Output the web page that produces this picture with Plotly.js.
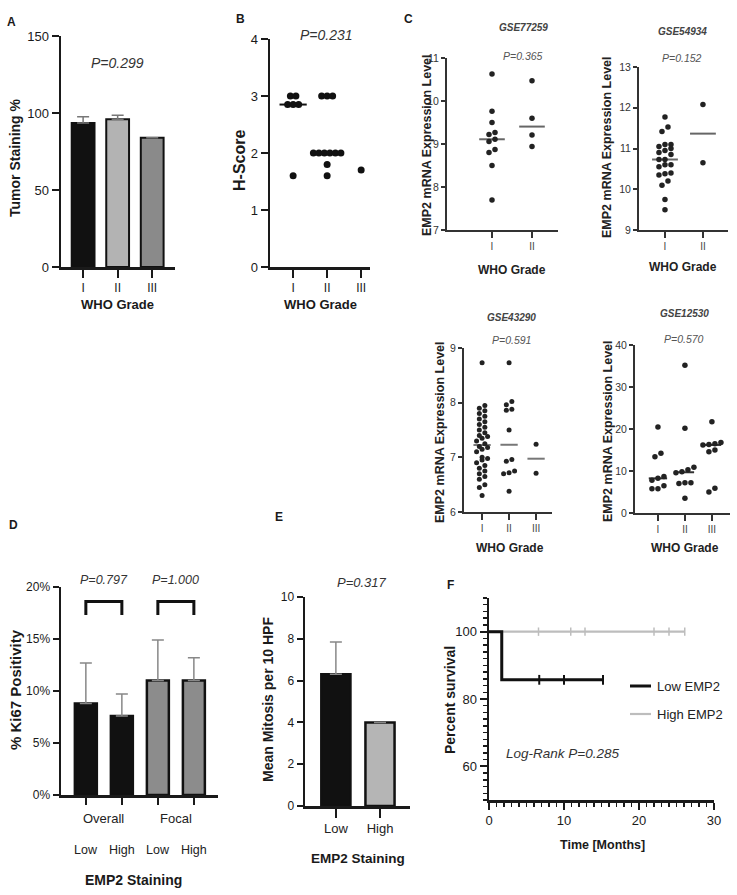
<!DOCTYPE html>
<html><head><meta charset="utf-8">
<script src="https://cdn.plot.ly/plotly-3.0.1.min.js"></script>
<style>html,body{margin:0;padding:0;background:#fff}#chart{width:737px;height:895px}</style>
</head><body><div id="chart"></div>
<script>
// ================= DATA =================
const gradeLabels = ['I', 'II', 'III'];
// Panel A
const aTumorStaining = [93.5, 96, 84];
const aStainingErr = [4, 2.5, 0];
const aPvalue = 'P=0.299';
// Panel B
const bHScoreI = [3.0, 3.0, 2.85, 2.85, 2.85, 1.6];
const bHScoreII = [3.0, 3.0, 3.0, 2.0, 2.0, 2.0, 2.0, 2.0, 2.0, 1.8, 1.6];
const bHScoreIII = [1.7];
const bPvalue = 'P=0.231';
// Panel C
const cDatasets = ['GSE77259', 'GSE54934', 'GSE43290', 'GSE12530'];
const cPvalues = ['P=0.365', 'P=0.152', 'P=0.591', 'P=0.570'];
const gse77259_I = [10.63, 9.76, 9.5, 9.27, 9.22, 9.11, 9.06, 8.87, 8.8, 8.5, 7.7];
const gse77259_II = [10.47, 9.6, 9.21, 8.94];
const gse54934_I = [11.77, 11.53, 11.42, 11.1, 11.1, 11.05, 11.0, 10.95, 10.9, 10.85, 10.73, 10.73, 10.6, 10.6, 10.55, 10.4, 10.38, 10.35, 10.2, 10.1, 9.75, 9.5];
const gse54934_II = [12.08, 10.65];
const gse43290_I = [8.73, 7.95, 7.9, 7.85, 7.8, 7.75, 7.7, 7.65, 7.6, 7.55, 7.5, 7.45, 7.4, 7.38, 7.35, 7.3, 7.25, 7.2, 7.18, 7.15, 7.1, 7.0, 6.98, 6.95, 6.9, 6.85, 6.8, 6.75, 6.7, 6.65, 6.6, 6.5, 6.45, 6.3];
const gse43290_II = [8.73, 8.02, 7.96, 7.88, 7.86, 7.5, 6.96, 6.93, 6.75, 6.72, 6.7, 6.38];
const gse43290_III = [7.24, 6.71];
const gse12530_I = [20.5, 14.2, 13.4, 8.7, 8.25, 7.8, 6.5, 5.8, 5.8];
const gse12530_II = [35.2, 20.2, 10.9, 10.3, 9.8, 9.6, 7.2, 7.2, 7.0, 3.5];
const gse12530_III = [21.7, 16.8, 16.5, 16.3, 16.2, 15.0, 14.6, 5.9, 5.0];
// Panel D
const dGroups = ['Overall', 'Focal'];
const dLevels = ['Low', 'High', 'Low', 'High'];
const dKi67 = [8.8, 7.6, 11.0, 11.0];
const dKi67Err = [3.9, 2.1, 3.9, 2.2];
const dTickVals = [0, 5, 10, 15, 20];
const dTickText = ['0%', '5%', '10%', '15%', '20%'];
const dPvalues = ['P=0.797', 'P=1.000'];
// Panel E
const eLevels = ['Low', 'High'];
const eMitosis = [6.3, 4.0];
const eMitosisErr = [1.55, 0];
const ePvalue = 'P=0.317';
// Panel F
const fSeries = ['Low EMP2', 'High EMP2'];
const fLowTime = [0, 1.7, 15.2];
const fLowSurv = [100, 85.7, 85.7];
const fLowCensor = [6.7, 10.0, 15.2];
const fHighTime = [0, 26.1];
const fHighSurv = [100, 100];
const fHighCensor = [6.6, 10.9, 12.8, 22.0, 24.0, 26.1];
const fPvalue = 'Log-Rank P=0.285';

// ================= LAYOUT HELPERS =================
const W = 737, H = 895;
const FONT = 'Liberation Sans, Arial, Helvetica, sans-serif';
const geo = {
  1: {x: [61, 175], y: [36, 267], xr: [-0.64, 2.66], yr: [0, 150]},
  2: {x: [270, 370], y: [39, 267], xr: [-0.68, 2.26], yr: [0, 4]},
  3: {x: [447, 558], y: [58, 230], xr: [-1.125, 1.65], yr: [7, 11]},
  4: {x: [639, 728], y: [67, 230], xr: [-0.684, 1.66], yr: [9, 13]},
  5: {x: [464, 552], y: [348, 512], xr: [-0.67, 2.59], yr: [6, 9]},
  6: {x: [635, 730], y: [345, 513], xr: [-0.85, 2.67], yr: [0, 40]},
  7: {x: [61, 218], y: [587, 795], xr: [-0.69, 3.67], yr: [0, 20]},
  8: {x: [305, 410], y: [597, 806], xr: [-0.70, 1.68], yr: [0, 10]},
  9: {x: [489, 714], y: [598, 800], xr: [0, 30], yr: [50, 110]}
};
const layout = {
  width: W, height: H, margin: {l: 0, r: 0, t: 0, b: 0},
  paper_bgcolor: '#fff', plot_bgcolor: 'rgba(0,0,0,0)',
  showlegend: false, font: {family: FONT, color: '#1a1a1a'},
  annotations: [], shapes: []
};
const sid = i => (i === 1 ? '' : String(i));
const baseAx = {
  showline: true, linecolor: '#1a1a1a', linewidth: 2.5, ticks: 'outside', tickcolor: '#1a1a1a',
  tickwidth: 2, ticklen: 6, showgrid: false, zeroline: false, fixedrange: true,
  tickfont: {family: FONT, size: 12, color: '#1a1a1a'}
};
function mkAxes(i, xo, yo) {
  const g = geo[i], id = sid(i);
  layout['xaxis' + id] = Object.assign({}, baseAx, {domain: [g.x[0] / W, g.x[1] / W], range: g.xr, anchor: 'y' + id}, xo || {});
  layout['yaxis' + id] = Object.assign({}, baseAx, {domain: [1 - g.y[1] / H, 1 - g.y[0] / H], range: g.yr, anchor: 'x' + id}, yo || {});
}
function ann(text, x, y, size, opts) {
  layout.annotations.push(Object.assign({
    xref: 'paper', yref: 'paper', x: x / W, y: 1 - y / H, xanchor: 'center', yanchor: 'middle',
    showarrow: false, text: text, font: {family: FONT, size: size, color: '#1a1a1a'}
  }, opts || {}));
}
function bold(o) { o = o || {}; o.font = Object.assign({family: FONT, color: '#1a1a1a', weight: 'bold'}, o.font || {}); return o; }
function median(a) { const s = a.slice().sort((p, q) => p - q); const n = s.length; return n % 2 ? s[(n - 1) / 2] : (s[n / 2 - 1] + s[n / 2]) / 2; }
// beeswarm-like spreading: rows of near-equal values spread symmetrically
function swarmX(vals, center, g, spacing, rowH) {
  const xppu = (g.x[1] - g.x[0]) / (g.xr[1] - g.xr[0]);
  const yppu = (g.y[1] - g.y[0]) / (g.yr[1] - g.yr[0]);
  const order = vals.map((v, i) => i).sort((a, b) => vals[a] - vals[b]);
  const xs = new Array(vals.length);
  let k = 0;
  while (k < order.length) {
    const start = vals[order[k]];
    const grp = [];
    while (k < order.length && (vals[order[k]] - start) * yppu < rowH) { grp.push(order[k]); k++; }
    grp.forEach((idx, j) => { xs[idx] = center + ((j - (grp.length - 1) / 2) * spacing) / xppu; });
  }
  return xs;
}
const traces = [];
function scatterPanel(i, groups, mSize, spacing, rowH, hw, lineColor, mColor) {
  const id = sid(i), g = geo[i];
  groups.forEach((vals, c) => {
    if (vals.length > 1) {
      const m = median(vals);
      traces.push({type: 'scatter', mode: 'lines', xaxis: 'x' + id, yaxis: 'y' + id,
        x: [c - hw, c + hw], y: [m, m], line: {color: lineColor, width: 2}});
    }
    traces.push({type: 'scatter', mode: 'markers', xaxis: 'x' + id, yaxis: 'y' + id,
      x: swarmX(vals, c, g, spacing, rowH), y: vals, cliponaxis: false,
      marker: {size: mSize, color: mColor, line: {width: 0}}});
  });
}
function survAt(times, surv, t) { let s = surv[0]; for (let k = 0; k < times.length; k++) if (times[k] <= t) s = surv[k]; return s; }

// ================= PANEL A =================
mkAxes(1, {tickvals: [0, 1, 2], ticktext: gradeLabels, ticklen: 8, tickfont: {family: FONT, size: 12, color: '#1a1a1a'}},
  {tickvals: [0, 50, 100, 150], ticklen: 7, tickfont: {family: FONT, size: 13, color: '#1a1a1a'}});
traces.push({type: 'bar', xaxis: 'x', yaxis: 'y', x: [0, 1, 2], y: aTumorStaining, width: 0.66,
  marker: {color: ['#111111', '#b3b3b3', '#8a8a8a'], line: {color: '#111', width: 2}},
  error_y: {type: 'data', symmetric: false, array: aStainingErr, arrayminus: [0, 0, 0], color: '#777', thickness: 1.5, width: 6}});
ann('A', 12, 22, 20, bold());
ann(aPvalue, 117, 63, 14, {font: {family: FONT, size: 14, color: '#333', style: 'italic'}});
ann('Tumor Staining %', 15, 158, 14, bold({textangle: -90, font: {size: 14}}));
ann('WHO Grade', 117, 305, 13, bold({font: {size: 13}}));

// ================= PANEL B =================
mkAxes(2, {tickvals: [0, 1, 2], ticktext: gradeLabels, ticklen: 8},
  {dtick: 1, tick0: 0, ticklen: 7, tickfont: {family: FONT, size: 13, color: '#1a1a1a'}});
scatterPanel(2, [bHScoreI, bHScoreII, bHScoreIII], 7, 5.5, 7, 0.4, '#111', '#111');
ann('B', 240, 19, 20, bold());
ann(bPvalue, 326, 35, 14, {font: {family: FONT, size: 14, color: '#333', style: 'italic'}});
ann('H-Score', 240, 161, 16, bold({textangle: -90, font: {size: 16}}));
ann('WHO Grade', 320, 305, 13, bold({font: {size: 13}}));

// ================= PANEL C =================
const cAx = {linecolor: '#333', linewidth: 2, tickcolor: '#333', tickfont: {family: FONT, size: 10.5, color: '#333'}};
const cx = (n) => Object.assign({}, cAx, {tickvals: gradeLabels.slice(0, n).map((d, k) => k), ticktext: gradeLabels.slice(0, n), ticklen: 6, tickfont: {family: FONT, size: 10, color: '#444'}});
mkAxes(3, cx(2), Object.assign({}, cAx, {dtick: 1, tick0: 7, ticklen: 4}));
mkAxes(4, cx(2), Object.assign({}, cAx, {dtick: 1, tick0: 9, ticklen: 4}));
mkAxes(5, cx(3), Object.assign({}, cAx, {dtick: 1, tick0: 6, ticklen: 4}));
mkAxes(6, cx(3), Object.assign({}, cAx, {dtick: 10, tick0: 0, ticklen: 4}));
scatterPanel(3, [gse77259_I, gse77259_II], 5.5, 6, 5.5, 0.32, '#666', '#222');
scatterPanel(4, [gse54934_I, gse54934_II], 5.5, 6, 5.5, 0.34, '#666', '#222');
scatterPanel(5, [gse43290_I, gse43290_II, gse43290_III], 5, 5.5, 5, 0.32, '#777', '#222');
scatterPanel(6, [gse12530_I, gse12530_II, gse12530_III], 5.5, 6, 5.5, 0.34, '#333', '#222');
ann('C', 408, 19, 20, bold());
const cTitlePos = [[523, 28, 56], [682, 31, 58], [512, 317, 340], [684, 314, 339]];
const cYTitle = [[427, 145], [607, 147], [440, 432], [608, 431]];
const cXTitle = [[512, 270], [683, 267], [510, 548], [685, 548]];
cDatasets.forEach((d, k) => {
  ann(d, cTitlePos[k][0], cTitlePos[k][1], 10, {font: {family: FONT, size: 10, color: '#444', weight: 'bold', style: 'italic'}});
  ann(cPvalues[k], cTitlePos[k][0], cTitlePos[k][2], 10, {font: {family: FONT, size: 10.5, color: '#555', style: 'italic'}});
  ann('EMP2 mRNA Expression Level', cYTitle[k][0], cYTitle[k][1], 12.5, bold({textangle: -90, font: {size: 12.5, color: '#222'}}));
  ann('WHO Grade', cXTitle[k][0], cXTitle[k][1], 12, bold({font: {size: 12, color: '#222'}}));
});

// ================= PANEL D =================
mkAxes(7, {tickvals: [0, 1, 2, 3], showticklabels: false, ticklen: 7},
  {tickvals: dTickVals, ticktext: dTickText, ticklen: 6, tickfont: {family: FONT, size: 12, color: '#1a1a1a'}});
traces.push({type: 'bar', xaxis: 'x7', yaxis: 'y7', x: [0, 1, 2, 3], y: dKi67, width: 0.61,
  marker: {color: ['#111111', '#111111', '#8c8c8c', '#8c8c8c'], line: {color: '#111', width: 2.5}},
  error_y: {type: 'data', symmetric: false, array: dKi67Err, arrayminus: [0, 0, 0, 0], color: '#888', thickness: 1.5, width: 6}});
dPvalues.forEach((p, k) => {
  const x0 = 2 * k, x1 = 2 * k + 1;
  layout.shapes.push({type: 'path', xref: 'x7', yref: 'y7', path: `M ${x0},17.3 L ${x0},18.6 L ${x1},18.6 L ${x1},17.3`, line: {color: '#111', width: 3}});
  layout.annotations.push({xref: 'x7', yref: 'paper', x: x0 + 0.5, y: 1 - 580 / H, xanchor: 'center', yanchor: 'middle', showarrow: false, text: p,
    font: {family: FONT, size: 12.5, color: '#333', style: 'italic'}});
});
dGroups.forEach((g, k) => layout.annotations.push({xref: 'x7', yref: 'paper', x: 2 * k + 0.5, y: 1 - 818 / H, xanchor: 'center', yanchor: 'middle', showarrow: false, text: g,
  font: {family: FONT, size: 13, color: '#222'}}));
dLevels.forEach((l, k) => layout.annotations.push({xref: 'x7', yref: 'paper', x: k, y: 1 - 850 / H, xanchor: 'center', yanchor: 'middle', showarrow: false, text: l,
  font: {family: FONT, size: 12.5, color: '#222'}}));
ann('D', 13, 525, 20, bold());
ann('% Ki67 Positivity', 15, 690, 15, bold({textangle: -90, font: {size: 15}}));
ann('EMP2 Staining', 133, 880, 14, bold({font: {size: 14}}));

// ================= PANEL E =================
mkAxes(8, {tickvals: [0, 1], ticktext: eLevels, ticklen: 9, tickfont: {family: FONT, size: 13, color: '#222'}},
  {dtick: 2, tick0: 0, ticklen: 6, tickfont: {family: FONT, size: 12, color: '#1a1a1a'}});
traces.push({type: 'bar', xaxis: 'x8', yaxis: 'y8', x: [0, 1], y: eMitosis, width: 0.66,
  marker: {color: ['#111111', '#b5b5b5'], line: {color: '#111', width: 2.5}},
  error_y: {type: 'data', symmetric: false, array: eMitosisErr, arrayminus: [0, 0], color: '#888', thickness: 1.5, width: 6}});
ann('E', 279, 517, 20, bold());
ann(ePvalue, 362, 582, 13, {font: {family: FONT, size: 13, color: '#333', style: 'italic'}});
ann('Mean Mitosis per 10 HPF', 268, 700, 14, bold({textangle: -90, font: {size: 14}}));
ann('EMP2 Staining', 358, 858, 13.5, bold({font: {size: 13.5}}));

// ================= PANEL F =================
mkAxes(9, {dtick: 10, tick0: 0, ticklen: 7, tickfont: {family: FONT, size: 13, color: '#1a1a1a'},
    minor: {ticks: 'outside', dtick: 1, ticklen: 4, tickwidth: 1.5, tickcolor: '#1a1a1a'}},
  {tickvals: [60, 80, 100], ticklen: 7, tickfont: {family: FONT, size: 13, color: '#1a1a1a'},
    minor: {ticks: 'outside', dtick: 2, tick0: 0, ticklen: 4, tickwidth: 1.5, tickcolor: '#1a1a1a'}});
traces.push({type: 'scatter', mode: 'lines', xaxis: 'x9', yaxis: 'y9', x: fHighTime, y: fHighSurv, line: {shape: 'hv', color: '#bdbdbd', width: 2.2}, cliponaxis: false});
traces.push({type: 'scatter', mode: 'markers', xaxis: 'x9', yaxis: 'y9', x: fHighCensor, y: fHighCensor.map(t => survAt(fHighTime, fHighSurv, t)),
  marker: {symbol: 'line-ns-open', size: 6, color: '#bdbdbd', line: {color: '#bdbdbd', width: 1.5}}, cliponaxis: false});
traces.push({type: 'scatter', mode: 'lines', xaxis: 'x9', yaxis: 'y9', x: fLowTime, y: fLowSurv, line: {shape: 'hv', color: '#111', width: 3}, cliponaxis: false});
traces.push({type: 'scatter', mode: 'markers', xaxis: 'x9', yaxis: 'y9', x: fLowCensor, y: fLowCensor.map(t => survAt(fLowTime, fLowSurv, t)),
  marker: {symbol: 'line-ns-open', size: 7, color: '#111', line: {color: '#111', width: 2}}, cliponaxis: false});
// legend
[['#111', 3, 686], ['#bdbdbd', 2.2, 714]].forEach((s, k) => {
  layout.shapes.push({type: 'line', xref: 'paper', yref: 'paper', x0: 630 / W, x1: 651 / W, y0: 1 - s[2] / H, y1: 1 - s[2] / H, line: {color: s[0], width: s[1]}});
  ann(fSeries[k], 655, s[2], 13, {xanchor: 'left', font: {family: FONT, size: 13, color: '#222'}});
});
ann('F', 450, 585, 20, bold());
ann(fPvalue, 562, 753, 13.5, {font: {family: FONT, size: 13.5, color: '#333', style: 'italic'}});
ann('Percent survival', 450, 700, 14, bold({textangle: -90, font: {size: 14}}));
ann('Time [Months]', 602, 845, 12.5, bold({font: {size: 12.5}}));

Plotly.newPlot('chart', traces, layout, {staticPlot: true, displayModeBar: false});
</script>
</body></html>
